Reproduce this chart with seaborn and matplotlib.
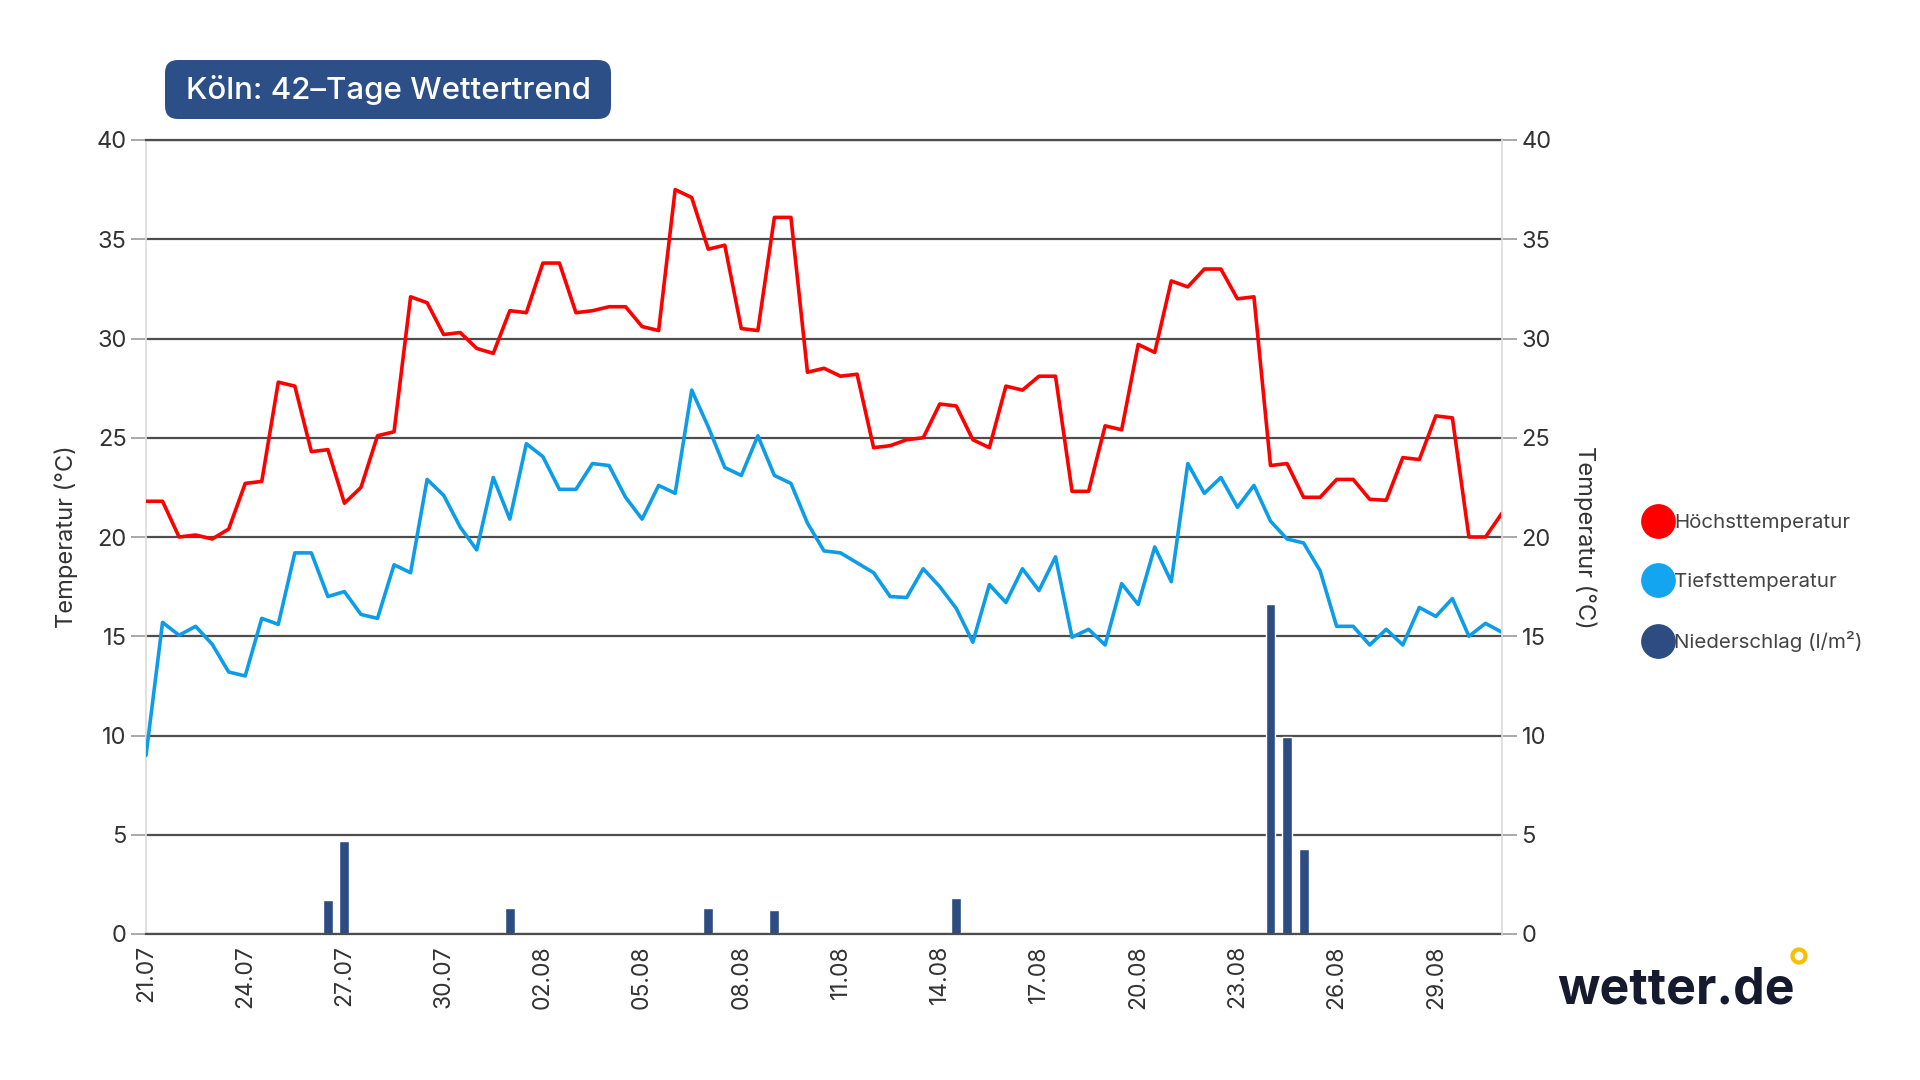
import matplotlib
matplotlib.use("Agg")
import matplotlib.pyplot as plt
import numpy as np
import pandas as pd
import seaborn as sns
from matplotlib.lines import Line2D
from matplotlib.patches import FancyBboxPatch, Circle

# half-day steps starting 21.07 (day 0) up to 31.08 (day 41)
hoechst = [
    21.8, 21.8, 20.0, 20.1, 19.9, 20.4, 22.7, 22.8, 27.8, 27.6,
    24.3, 24.4, 21.7, 22.5, 25.1, 25.3, 32.1, 31.8, 30.2, 30.3,
    29.5, 29.25, 31.4, 31.3, 33.8, 33.8, 31.3, 31.4, 31.6, 31.6,
    30.6, 30.4, 37.5, 37.1, 34.5, 34.7, 30.5, 30.4, 36.1, 36.1,
    28.3, 28.5, 28.1, 28.2, 24.5, 24.6, 24.9, 25.0, 26.7, 26.6,
    24.9, 24.5, 27.6, 27.4, 28.1, 28.1, 22.3, 22.3, 25.6, 25.4,
    29.7, 29.3, 32.9, 32.6, 33.5, 33.5, 32.0, 32.1, 23.6, 23.7,
    22.0, 22.0, 22.9, 22.9, 21.9, 21.85, 24.0, 23.9, 26.1, 26.0,
    20.0, 20.0, 21.2,
]
tiefst = [
    9.0, 15.7, 15.05, 15.5, 14.6, 13.2, 13.0, 15.9, 15.6, 19.2,
    19.2, 17.0, 17.25, 16.1, 15.9, 18.6, 18.2, 22.9, 22.1, 20.5,
    19.35, 23.0, 20.9, 24.7, 24.05, 22.4, 22.4, 23.7, 23.6, 22.0,
    20.9, 22.6, 22.2, 27.4, 25.55, 23.5, 23.1, 25.1, 23.1, 22.7,
    20.7, 19.3, 19.2, 18.7, 18.2, 17.0, 16.95, 18.4, 17.5, 16.4,
    14.7, 17.6, 16.7, 18.4, 17.3, 19.0, 14.95, 15.35, 14.56, 17.65,
    16.6, 19.5, 17.75, 23.7, 22.2, 23.0, 21.5, 22.6, 20.8, 19.9,
    19.7, 18.3, 15.5, 15.5, 14.56, 15.35, 14.56, 16.45, 16.0, 16.9,
    15.0, 15.65, 15.2,
]
tage = np.arange(len(hoechst)) * 0.5

regen_tage = [5.5, 6.0, 11.0, 17.0, 19.0, 24.5, 34.0, 34.5, 35.0]
regen_mm = [1.7, 4.7, 1.3, 1.3, 1.2, 1.8, 16.6, 9.9, 4.3]

tick_labels = ["21.07", "24.07", "27.07", "30.07", "02.08", "05.08", "08.08",
               "11.08", "14.08", "17.08", "20.08", "23.08", "26.08", "29.08"]
temp_ticks = [0, 5, 10, 15, 20, 25, 30, 35, 40]

RED = "#ff0000"
BLUE = "#0d9de8"
NAVY = "#2c4c82"

sns.set_theme(style="white")
plt.rcParams["font.family"] = ["Inter", "DejaVu Sans"]

fig = plt.figure(figsize=(19.2, 10.8), dpi=100)
ax = fig.add_axes([146 / 1920, 1 - 934 / 1080, 1356 / 1920, 794 / 1080])

ax.bar(regen_tage, regen_mm, width=0.3, color=NAVY, zorder=2)
sns.lineplot(x=tage, y=hoechst, color=RED, linewidth=2.6, ax=ax, zorder=3)
sns.lineplot(x=tage, y=tiefst, color=BLUE, linewidth=2.6, ax=ax, zorder=3)

ax.set_xlim(0, 41)
ax.set_ylim(0, 40)
ax.set_yticks(temp_ticks)
ax.set_xticks(np.arange(len(tick_labels)) * 3)
ax.set_xticklabels(tick_labels, rotation=90)
ax.yaxis.grid(True, color="#4d4d4d", linewidth=1.6, zorder=0)
ax.xaxis.grid(False)
ax.set_axisbelow(True)
for side in ["top", "bottom"]:
    ax.spines[side].set_color("#4d4d4d")
    ax.spines[side].set_linewidth(1.6)
ax.spines["left"].set_color("#dddddd")
ax.spines["right"].set_visible(False)
ax.tick_params(axis="y", length=11, width=1.2, color="#999999", labelsize=17,
               labelcolor="#333333", pad=3)
ax.tick_params(axis="x", length=0, labelsize=16.5, labelcolor="#333333", pad=8)
ax.set_ylabel("Temperatur (°C)", fontsize=17, color="#333333", labelpad=13)
ax.set_xlabel("")

ax2 = ax.twinx()
ax2.set_ylim(0, 40)
ax2.set_yticks(temp_ticks)
ax2.tick_params(axis="y", length=11, width=1.2, color="#999999", labelsize=17,
                labelcolor="#333333", pad=3)
for side in ["top", "bottom", "left"]:
    ax2.spines[side].set_visible(False)
ax2.spines["right"].set_color("#dddddd")
ax2.set_ylabel("Temperatur (°C)", fontsize=17, color="#333333", rotation=270,
               labelpad=32)
ax2.grid(False)

# title badge
box = FancyBboxPatch((1.65, 9.61), 4.46, 0.59, boxstyle="round,pad=0,rounding_size=0.13",
                     transform=fig.dpi_scale_trans, facecolor="#2b4f86", edgecolor="none")
fig.patches.append(box)
fig.text(3.88, 9.905, "Köln: 42–Tage Wettertrend", transform=fig.dpi_scale_trans,
         ha="center", va="center", color="white", fontsize=22.5, fontweight="medium")

handles = [
    Line2D([], [], marker="o", ls="", markersize=24, color=RED),
    Line2D([], [], marker="o", ls="", markersize=24, color="#14a5f0"),
    Line2D([], [], marker="o", ls="", markersize=24, color=NAVY),
]
fig.legend(handles, ["Höchsttemperatur", "Tiefsttemperatur", "Niederschlag (l/m²)"],
           loc="center left", bbox_to_anchor=(1625 / 1920, 1 - 583 / 1080), frameon=False,
           fontsize=14.8, labelspacing=1.95, handletextpad=0.1, handlelength=1.4,
           labelcolor="#444444")

# logo
fig.text(1676 / 1920, 1 - 990 / 1080, "wetter.de", ha="center", va="center",
         fontsize=36, fontweight="bold", color="#161a2e")
fig.patches.append(Circle((17.99, 10.8 - 9.56), 0.065, transform=fig.dpi_scale_trans,
                          facecolor="none", edgecolor="#f5c000", linewidth=3))

fig.savefig("out.png", dpi=100)
